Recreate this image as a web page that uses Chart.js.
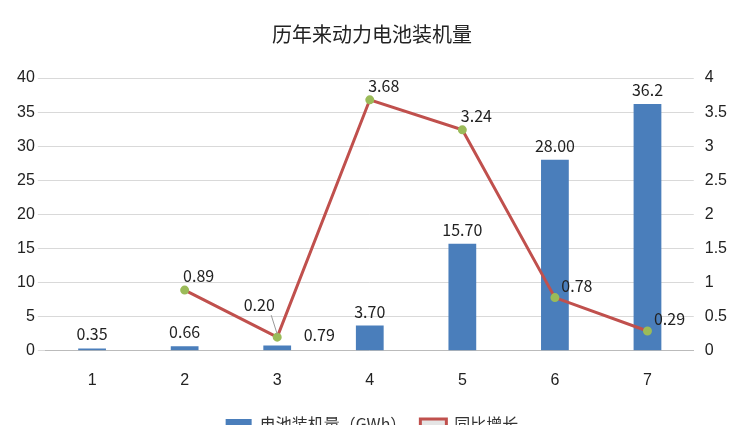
<!DOCTYPE html>
<html>
<head>
<meta charset="utf-8">
<script src="https://cdn.jsdelivr.net/npm/chart.js@4/dist/chart.umd.min.js"></script>
<style>
  body { margin: 0; background: #fff; overflow: hidden; }
  #wrap { width: 744px; height: 442px; }
</style>
</head>
<body>
<div id="wrap"><canvas id="c"></canvas></div>
<script>
// Chart data
const categories = ['1', '2', '3', '4', '5', '6', '7'];
const capacity = [0.35, 0.66, 0.79, 3.70, 15.70, 28.00, 36.2];
const capacityLabels = ['0.35', '0.66', '0.79', '3.70', '15.70', '28.00', '36.2'];
const growth = [null, 0.89, 0.20, 3.68, 3.24, 0.78, 0.29];
const growthLabels = ['', '0.89', '0.20', '3.68', '3.24', '0.78', '0.29'];

// Draws the value labels next to bars and points
const valueLabels = {
  id: 'valueLabels',
  afterDatasetsDraw(chart) {
    const ctx = chart.ctx;
    ctx.save();
    ctx.font = '16px "Noto Sans CJK SC", sans-serif';
    ctx.fillStyle = '#222';
    ctx.textAlign = 'center';
    ctx.textBaseline = 'bottom';
    chart.getDatasetMeta(0).data.forEach((bar, i) => {
      if (i === 2) {
        ctx.fillText(capacityLabels[i], bar.x + 42, bar.y - 2);
      } else {
        ctx.fillText(capacityLabels[i], bar.x, bar.y - 6);
      }
    });
    chart.getDatasetMeta(1).data.forEach((pt, i) => {
      if (!growthLabels[i]) return;
      if (i === 2) {
        ctx.fillText(growthLabels[i], pt.x - 18, pt.y - 24);
        ctx.strokeStyle = '#999';
        ctx.lineWidth = 1;
        ctx.beginPath();
        ctx.moveTo(pt.x - 6, pt.y - 22);
        ctx.lineTo(pt.x, pt.y - 3);
        ctx.stroke();
      } else if (i === 5 || i === 6) {
        ctx.fillText(growthLabels[i], pt.x + 22, pt.y - 4);
      } else {
        ctx.fillText(growthLabels[i], pt.x + 14, pt.y - 6);
      }
    });
    ctx.restore();
  }
};

new Chart(document.getElementById('c'), {
  data: {
    labels: categories,
    datasets: [
      {
        type: 'bar',
        label: '电池装机量（GWh）',
        data: capacity,
        backgroundColor: '#4a7ebb',
        yAxisID: 'y',
        barPercentage: 0.3,
        categoryPercentage: 1,
        order: 2
      },
      {
        type: 'line',
        label: '同比增长',
        data: growth,
        borderColor: '#c0504d',
        borderWidth: 3,
        pointBackgroundColor: '#9bbb59',
        pointBorderColor: '#9bbb59',
        pointRadius: 3,
        tension: 0,
        yAxisID: 'y1',
        order: 1
      }
    ]
  },
  options: {
    responsive: true,
    maintainAspectRatio: false,
    animation: false,
    layout: { padding: { left: 14, right: 14, top: 8, bottom: 0 } },
    plugins: {
      title: {
        display: true,
        text: '历年来动力电池装机量',
        font: { size: 20, family: '"Noto Sans CJK SC", sans-serif', weight: 'normal' },
        color: '#222',
        padding: { top: 14, bottom: 32 }
      },
      legend: {
        position: 'bottom',
        labels: {
          font: { size: 16, family: '"Noto Sans CJK SC", sans-serif' },
          color: '#333',
          boxWidth: 26,
          boxHeight: 10,
          padding: 14,
          sort: (a, b) => a.datasetIndex - b.datasetIndex
        }
      },
      tooltip: { enabled: false }
    },
    scales: {
      x: {
        grid: { display: false },
        border: { color: '#bbb' },
        ticks: { font: { size: 16 }, color: '#222', padding: 12 }
      },
      y: {
        position: 'left',
        min: 0, max: 40,
        ticks: { stepSize: 5, font: { size: 16 }, color: '#222' },
        grid: { color: '#d9d9d9' },
        border: { display: false }
      },
      y1: {
        position: 'right',
        min: 0, max: 4,
        ticks: { stepSize: 0.5, font: { size: 16 }, color: '#222', callback: v => String(v) },
        grid: { display: false },
        border: { display: false }
      }
    }
  },
  plugins: [valueLabels]
});
</script>
</body>
</html>
